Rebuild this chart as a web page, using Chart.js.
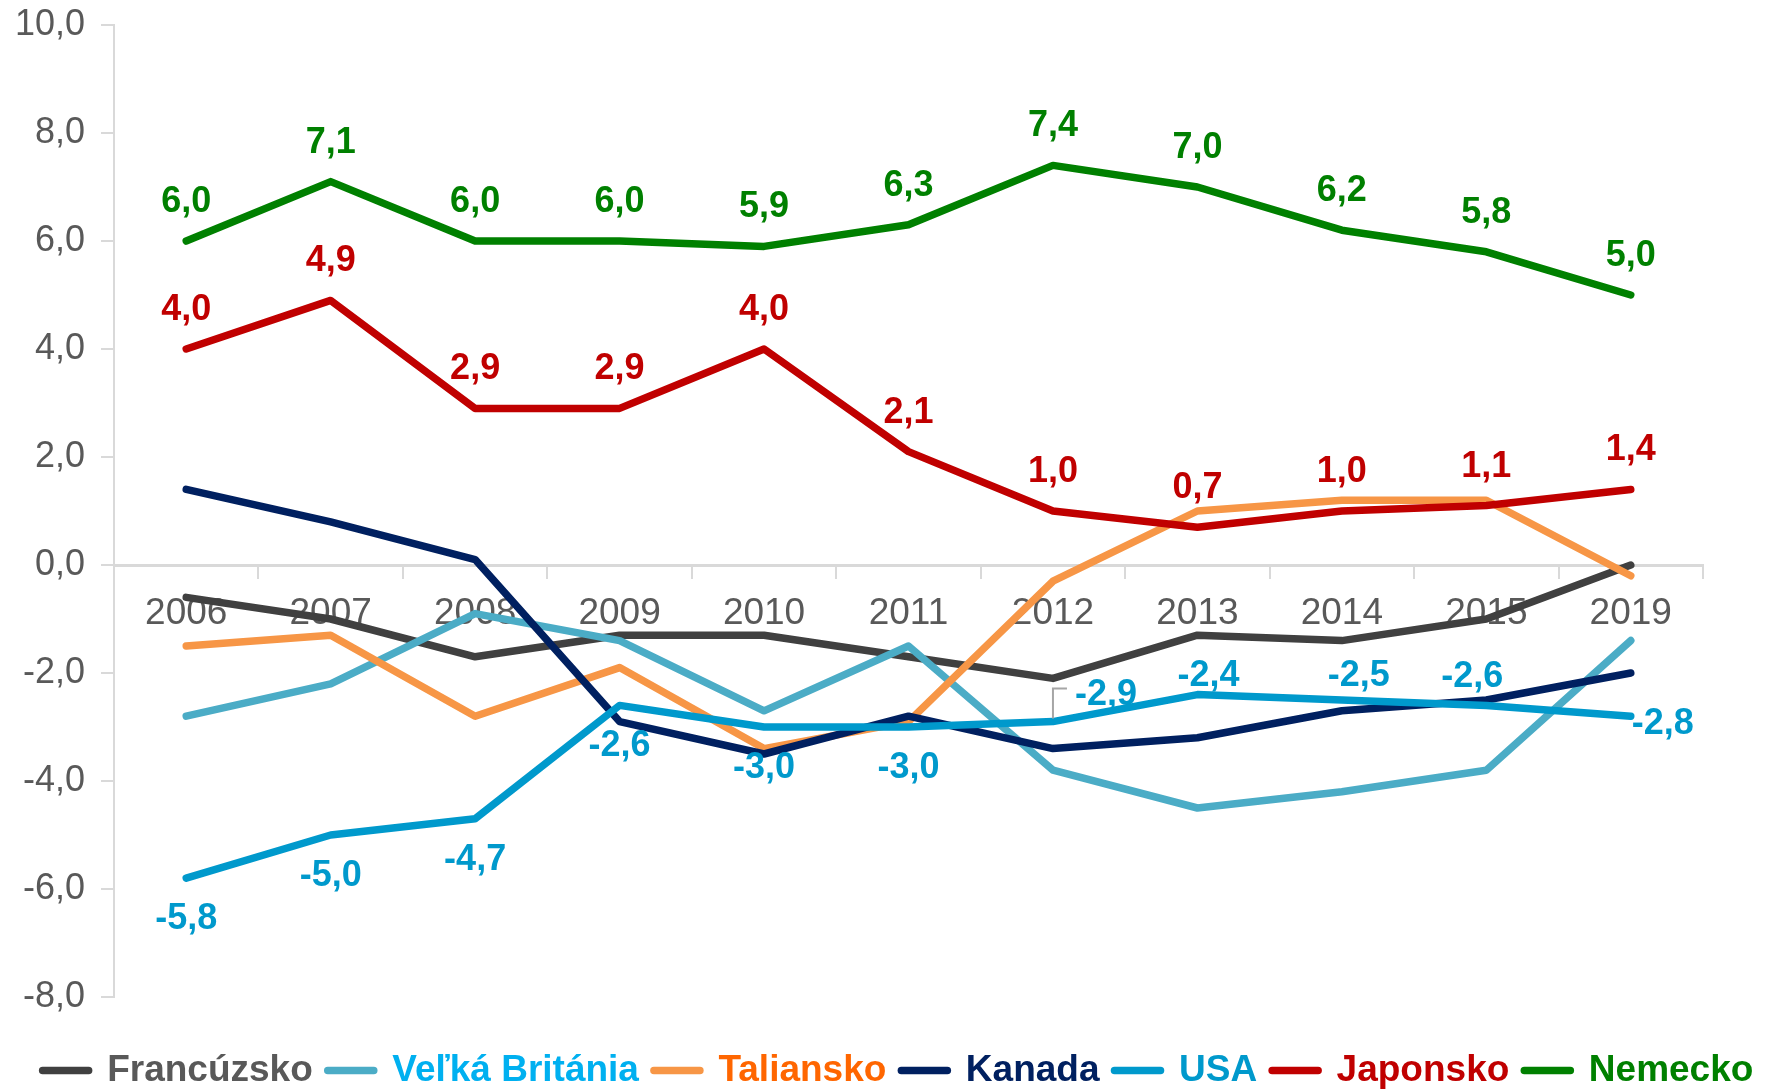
<!DOCTYPE html>
<html>
<head>
<meta charset="utf-8">
<script src="https://cdn.jsdelivr.net/npm/chart.js@4.4.1/dist/chart.umd.min.js"></script>
<style>
  html, body { margin: 0; padding: 0; background: #fff; overflow: hidden; }
</style>
</head>
<body>
<canvas id="myChart" width="1782" height="1090"></canvas>
<script>
// hodnoty odčítané z grafu
const categories = ['2006', '2007', '2008', '2009', '2010', '2011', '2012', '2013', '2014', '2015', '2019'];
const francuzsko = [-0.6, -1.0, -1.7, -1.3, -1.3, -1.7, -2.1, -1.3, -1.4, -1.0, 0.0];
const velkaBritania = [-2.8, -2.2, -0.9, -1.4, -2.7, -1.5, -3.8, -4.5, -4.2, -3.8, -1.4];
const taliansko = [-1.5, -1.3, -2.8, -1.9, -3.4, -2.9, -0.3, 1.0, 1.2, 1.2, -0.2];
const kanada = [1.4, 0.8, 0.1, -2.9, -3.5, -2.8, -3.4, -3.2, -2.7, -2.5, -2.0];
const usa = [-5.8, -5.0, -4.7, -2.6, -3.0, -3.0, -2.9, -2.4, -2.5, -2.6, -2.8];
const japonsko = [4.0, 4.9, 2.9, 2.9, 4.0, 2.1, 1.0, 0.7, 1.0, 1.1, 1.4];
const nemecko = [6.0, 7.1, 6.0, 6.0, 5.9, 6.3, 7.4, 7.0, 6.2, 5.8, 5.0];
const yTicks = [-8, -6, -4, -2, 0, 2, 4, 6, 8, 10];

const FONT = '"Liberation Sans", Arial, sans-serif';

// kde stoja popisky hodnot (dx, dy v px od bodu)
const above = categories.map(() => [0, -39]);
const usaLabelPos = [[0, 41], [0, 41], [0, 41], [0, 41], [0, 41], [0, 41],
                     [53, -27, true], [11, -19], [17, -24], [-14, -28], [32, 8]];

const series = [
    { label: 'Francúzsko', data: francuzsko, line: '#404040', text: '#595959' },
    { label: 'Veľká Británia', data: velkaBritania, line: '#4BACC6', text: '#00B0F0' },
    { label: 'Taliansko', data: taliansko, line: '#F79646', text: '#FF6600' },
    { label: 'Kanada', data: kanada, line: '#002060', text: '#002060' },
    { label: 'USA', data: usa, line: '#0099CC', text: '#0099CC', labels: usaLabelPos },
    { label: 'Japonsko', data: japonsko, line: '#C00000', text: '#C00000', labels: above },
    { label: 'Nemecko', data: nemecko, line: '#008000', text: '#008000', labels: above }
];

const fmt = v => v.toFixed(1).replace('.', ',');

const valueLabels = {
    id: 'valueLabels',
    afterDatasetsDraw(chart) {
        const ctx = chart.ctx;
        ctx.save();
        ctx.font = 'bold 36px ' + FONT;
        ctx.textAlign = 'center';
        ctx.textBaseline = 'middle';
        chart.data.datasets.forEach((ds, i) => {
            if (!ds.valueLabels) return;
            const meta = chart.getDatasetMeta(i);
            meta.data.forEach((pt, j) => {
                const pos = ds.valueLabels[j];
                const x = pt.x + pos[0], y = pt.y + pos[1];
                if (pos[2]) {
                    // vodiaca ciarka
                    ctx.strokeStyle = '#A6A6A6';
                    ctx.lineWidth = 2;
                    ctx.beginPath();
                    ctx.moveTo(pt.x, pt.y - 3);
                    ctx.lineTo(pt.x, y - 6);
                    ctx.lineTo(pt.x + 14, y - 6);
                    ctx.stroke();
                }
                ctx.fillStyle = ds.textColor;
                ctx.fillText(fmt(ds.data[j]), x, y);
            });
        });
        ctx.restore();
    }
};

const ctx = document.getElementById('myChart').getContext('2d');
const chart = new Chart(ctx, {
    type: 'line',
    data: {
        labels: categories,
        datasets: series.map((s, i) => ({
            label: s.label,
            data: s.data,
            xAxisID: 'x',
            yAxisID: 'y',
            borderColor: s.line,
            backgroundColor: s.line,
            borderWidth: 7.5,
            textColor: s.text,
            valueLabels: s.labels,
            order: series.length - 1 - i
        }))
    },
    options: {
        responsive: false,
        devicePixelRatio: 1,
        animation: false,
        events: [],
        layout: { padding: { left: 14, right: 0, top: 25, bottom: -9 } },
        elements: {
            point: { radius: 0 },
            line: { tension: 0, borderCapStyle: 'round', borderJoinStyle: 'round' }
        },
        scales: {
            x: {
                type: 'category',
                position: { y: 0 },
                offset: true,
                grid: { offset: true, drawOnChartArea: false, tickLength: 12, color: '#D9D9D9', lineWidth: 2 },
                border: { color: '#D9D9D9', width: 3 },
                ticks: { color: '#595959', font: { family: FONT, size: 37 }, padding: 15, maxRotation: 0, autoSkip: false },
                afterFit: scale => { scale.height = 0; }
            },
            y: {
                min: -8,
                max: 10,
                afterBuildTicks: scale => { scale.ticks = yTicks.map(v => ({ value: v })); },
                ticks: { color: '#595959', font: { family: FONT, size: 36 }, padding: 16, callback: v => fmt(v) },
                grid: { drawOnChartArea: false, tickLength: 13, color: '#D9D9D9', lineWidth: 2 },
                border: { color: '#D9D9D9', width: 2 },
                afterFit: scale => {
                    scale.width = 100;
                    scale.paddingTop = 0;
                    scale.paddingBottom = 0;
                }
            },
            // prazdne osi len ako medzery (nad legendou a vpravo)
            spacer: {
                type: 'category',
                axis: 'x',
                position: 'bottom',
                grid: { display: false },
                border: { display: false },
                ticks: { display: false },
                afterFit: scale => { scale.height = 40; }
            },
            ySpacer: {
                type: 'linear',
                axis: 'y',
                position: 'right',
                grid: { display: false },
                border: { display: false },
                ticks: { display: false },
                afterFit: scale => { scale.width = 79; }
            }
        },
        plugins: {
            tooltip: { enabled: false },
            legend: {
                position: 'bottom',
                labels: {
                    usePointStyle: true,
                    pointStyleWidth: 46,
                    padding: 15,
                    font: { family: FONT, size: 37, weight: 'bold' },
                    generateLabels: chart => chart.data.datasets.map((ds, i) => ({
                        text: ds.label,
                        fillStyle: ds.borderColor,
                        strokeStyle: ds.borderColor,
                        lineWidth: 7.5,
                        lineCap: 'round',
                        pointStyle: 'line',
                        fontColor: ds.textColor,
                        hidden: false,
                        datasetIndex: i
                    }))
                }
            }
        }
    },
    plugins: [valueLabels]
});
</script>
</body>
</html>
